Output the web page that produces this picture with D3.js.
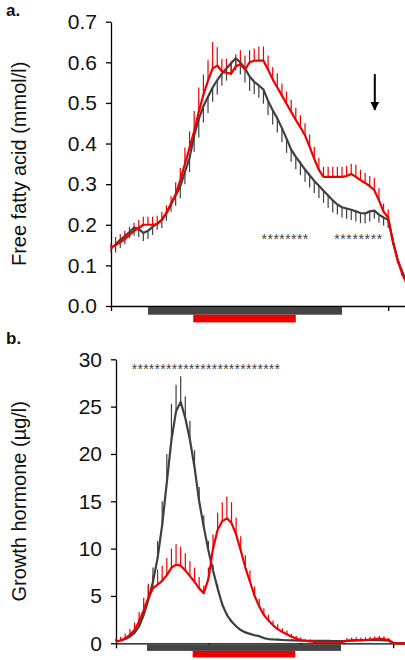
<!DOCTYPE html>
<html><head><meta charset="utf-8">
<script src="https://cdn.jsdelivr.net/npm/d3@7"></script>
<style>
body{margin:0;background:#fff;}
svg{display:block;font-family:"Liberation Sans",Arial,sans-serif;}
</style></head>
<body><svg id="c" width="405" height="660"></svg>
<script>
// ---- data (time index, one sample per step) ----
const ffaTicks = [0.0,0.1,0.2,0.3,0.4,0.5,0.6,0.7];
const ghTicks = [0,5,10,15,20,25,30];
const timeTicks = [0,20,40,60];

const ffaGray = [0.142,0.152,0.163,0.172,0.182,0.193,0.190,0.180,0.185,0.195,0.203,0.212,0.230,0.252,0.272,0.295,0.330,0.365,0.420,0.460,0.492,0.515,0.538,0.556,0.572,0.585,0.598,0.610,0.600,0.585,0.565,0.552,0.543,0.533,0.505,0.482,0.462,0.438,0.412,0.385,0.367,0.352,0.336,0.322,0.308,0.296,0.284,0.272,0.260,0.250,0.243,0.240,0.237,0.233,0.229,0.228,0.233,0.235,0.225,0.218,0.212,0.160,0.115,0.085,0.060];
const ffaGrayErr = [0.01,0.02,0.02,0.02,0.015,0.02,0.02,0.02,0.02,0.02,0.015,0.02,0.02,0.02,0.025,0.03,0.03,0.035,0.04,0.045,0.04,0.04,0.035,0.035,0.03,0.03,0.03,0.03,0.03,0.035,0.035,0.03,0.03,0.035,0.035,0.035,0.035,0.035,0.035,0.03,0.03,0.03,0.03,0.03,0.03,0.03,0.03,0.03,0.03,0.025,0.025,0.025,0.025,0.025,0.025,0.025,0.025,0.02,0.02,0.02,0.02,0.01,0.01,0.01,0.01];
const ffaRed = [0.143,0.150,0.157,0.165,0.175,0.185,0.192,0.200,0.200,0.200,0.202,0.212,0.228,0.250,0.275,0.310,0.350,0.390,0.430,0.478,0.520,0.555,0.585,0.592,0.578,0.574,0.572,0.590,0.595,0.582,0.600,0.604,0.604,0.604,0.582,0.558,0.538,0.518,0.498,0.478,0.458,0.440,0.420,0.392,0.362,0.335,0.318,0.318,0.318,0.318,0.318,0.320,0.325,0.318,0.310,0.303,0.295,0.285,0.260,0.232,0.218,0.160,0.115,0.080,0.055];
const ffaRedErr = [0.01,0.02,0.02,0.02,0.02,0.02,0.02,0.02,0.02,0.02,0.02,0.02,0.02,0.02,0.03,0.03,0.04,0.04,0.05,0.06,0.05,0.05,0.065,0.045,0.03,0.035,0.03,0.03,0.035,0.035,0.03,0.03,0.035,0.035,0.035,0.03,0.035,0.03,0.03,0.03,0.03,0.03,0.03,0.03,0.03,0.03,0.025,0.025,0.025,0.025,0.025,0.025,0.025,0.03,0.025,0.025,0.025,0.03,0.03,0.02,0.02,0.01,0.01,0.01,0.01];

const ghGray = [0.2,0.3,0.45,0.7,1.1,1.8,3.0,4.6,6.5,9.0,12.5,17.0,21.5,24.5,25.5,23.8,21.5,18.6,15.0,12.3,9.8,7.7,5.8,4.1,3.0,2.3,1.8,1.4,1.15,1.0,0.85,0.75,0.55,0.45,0.4,0.38,0.35,0.32,0.3,0.3,0.28,0.27,0.26,0.25,0.25,0.25,0.25,0.24,0.23,0.22,0.25,0.28,0.3,0.32,0.35,0.35,0.33,0.32,0.3,0.28,0.05,0,0,0];
const ghGrayErr = [0.2,0.3,0.3,0.4,0.5,0.8,1.2,1.5,1.5,1.8,2.5,3.0,3.8,2.8,2.7,2.3,2.0,1.8,1.5,1.2,1.0,0.6,0.4,0.3,0.2,0.2,0.1,0.1,0.1,0.1,0.1,0.1,0.1,0.1,0.1,0.1,0.1,0.1,0.1,0.1,0.1,0.1,0.1,0.1,0.1,0.1,0.1,0.1,0.1,0.1,0.1,0.1,0.1,0.1,0.1,0.1,0.1,0.1,0.1,0.1,0,0,0,0];
const ghRed = [0.2,0.3,0.5,0.9,1.4,2.3,3.5,4.8,5.8,6.2,6.6,7.2,8.0,8.3,8.2,7.7,7.1,6.5,5.8,5.3,6.8,10.0,12.0,12.9,13.2,12.7,11.5,9.8,8.0,6.5,5.0,3.9,3.0,2.4,1.9,1.5,1.2,0.95,0.7,0.5,0.35,0.25,0.2,0.15,0.12,0.1,0.1,0.1,0.1,0.15,0.25,0.3,0.35,0.3,0.35,0.4,0.45,0.5,0.45,0.35,0.05,0,0,0];
const ghRedErr = [0.3,0.4,0.5,0.6,0.8,1.0,1.3,1.5,1.4,1.6,1.6,1.8,2.0,2.2,2.0,1.8,1.6,1.5,1.2,0.8,1.2,1.5,1.8,2.0,2.3,2.2,1.8,1.5,1.3,1.2,1.0,0.8,0.7,0.6,0.5,0.5,0.4,0.4,0.3,0.3,0.3,0.2,0.2,0.2,0.2,0.2,0.2,0.2,0.2,0.2,0.3,0.3,0.3,0.3,0.3,0.3,0.3,0.3,0.3,0.2,0,0,0,0];

// interval bars (time index units) and significance asterisk runs
const ffaBars = [{from:8,to:50,color:"#444444",row:0},{from:17.8,to:40,color:"#ee0000",row:1}];
const ghBars = [{from:6.7,to:48.7,color:"#444444",row:0},{from:16.6,to:38.8,color:"#ee0000",row:1}];
const ffaStars = [{from:32.6,to:42.7,n:8,v:0.170},{from:48.3,to:58.7,n:8,v:0.170}];
const ghStars = [{from:3.4,to:35.5,n:26,v:29.2}];
const ffaArrow = {t:57.1,from:0.571,to:0.483};

const svg = d3.select("#c");
const GRAY = "#3f3f3f", RED = "#ee0000";

function panel(cfg){
  const g = svg.append("g");
  const x = d3.scaleLinear().domain([0,64]).range([cfg.x0, cfg.x0+64*4.62]);
  const y = d3.scaleLinear().domain(cfg.yDomain).range([cfg.y0, cfg.y1]);
  // y axis
  const ya = g.append("g").attr("transform",`translate(${cfg.x0},0)`)
    .call(d3.axisLeft(y).tickValues(cfg.yTicks).tickFormat(cfg.fmt).tickSize(5).tickSizeOuter(0).tickPadding(9));
  ya.selectAll("text").attr("font-size",21).attr("fill","#111").attr("font-family","Liberation Sans, Arial, sans-serif");
  ya.selectAll("line,path").attr("stroke","#000").attr("stroke-width",1.3);
  // x axis
  const xa = g.append("g").attr("transform",`translate(0,${cfg.y0})`)
    .call(d3.axisBottom(x).tickValues(timeTicks).tickFormat("").tickSize(5).tickSizeOuter(0));
  xa.selectAll("line,path").attr("stroke","#000").attr("stroke-width",1.3);
  // bars
  g.selectAll("rect.bar").data(cfg.bars).enter().append("rect")
    .attr("x",d=>x(d.from)).attr("width",d=>x(d.to)-x(d.from))
    .attr("y",d=>cfg.y0+1+d.row*cfg.barH).attr("height",cfg.barH)
    .attr("fill",d=>d.color);
  // series
  const line = d3.line().x((d,i)=>x(i)).y(d=>y(d));
  cfg.series.forEach(s=>{
    g.append("g").selectAll("line").data(s.vals).enter().append("line")
      .attr("x1",(d,i)=>x(i)).attr("x2",(d,i)=>x(i))
      .attr("y1",d=>y(d)).attr("y2",(d,i)=>y(d + s.dir*s.err[i]))
      .attr("stroke",s.color).attr("stroke-width",1.2);
  });
  cfg.series.forEach(s=>{
    g.append("path").datum(s.vals).attr("d",line)
      .attr("fill","none").attr("stroke",s.color).attr("stroke-width",2.2).attr("stroke-linejoin","round");
  });
  // asterisks
  g.selectAll("text.star").data(cfg.stars).enter().append("text")
    .attr("x",d=>x(d.from)).attr("y",d=>y(d.v)+7)
    .attr("textLength",d=>x(d.to)-x(d.from)).attr("lengthAdjust","spacing")
    .attr("font-size",14).attr("fill","#444").text(d=>"*".repeat(d.n));
  // title
  g.append("text").attr("transform",`translate(${cfg.titleX},${(cfg.y0+cfg.y1)/2}) rotate(-90)`)
    .attr("text-anchor","middle").attr("font-size",cfg.titleSize).attr("fill","#111").text(cfg.title);
  g.append("text").attr("x",6).attr("y",cfg.labelY).attr("font-size",17).attr("font-weight","bold").attr("fill","#111").text(cfg.label);
  return {x,y,g};
}

const p1 = panel({x0:111,y0:306,y1:21.7,yDomain:[0,0.7],yTicks:ffaTicks,fmt:d3.format(".1f"),
  bars:ffaBars,barH:7.7,stars:ffaStars,
  series:[{vals:ffaGray,err:ffaGrayErr,dir:-1,color:GRAY},{vals:ffaRed,err:ffaRedErr,dir:1,color:RED}],
  title:"Free fatty acid (mmol/l)",titleX:26,titleSize:20,label:"a.",labelY:16});

const p2 = panel({x0:116,y0:643.3,y1:359.3,yDomain:[0,30],yTicks:ghTicks,fmt:d3.format("d"),
  bars:ghBars,barH:6.6,stars:ghStars,
  series:[{vals:ghGray,err:ghGrayErr,dir:1,color:GRAY},{vals:ghRed,err:ghRedErr,dir:1,color:RED}],
  title:"Growth hormone (\u00b5g/l)",titleX:26,titleSize:20,label:"b.",labelY:344});

// arrow
p1.g.append("defs").append("marker").attr("id","ah").attr("viewBox","0 0 10 10").attr("refX",9).attr("refY",5)
  .attr("markerWidth",4.5).attr("markerHeight",4.5).attr("orient","auto")
  .append("path").attr("d","M0,0L10,5L0,10Z").attr("fill","#000");
p1.g.append("line").attr("x1",p1.x(ffaArrow.t)).attr("x2",p1.x(ffaArrow.t))
  .attr("y1",p1.y(ffaArrow.from)).attr("y2",p1.y(ffaArrow.to))
  .attr("stroke","#000").attr("stroke-width",2).attr("marker-end","url(#ah)");
</script></body></html>
